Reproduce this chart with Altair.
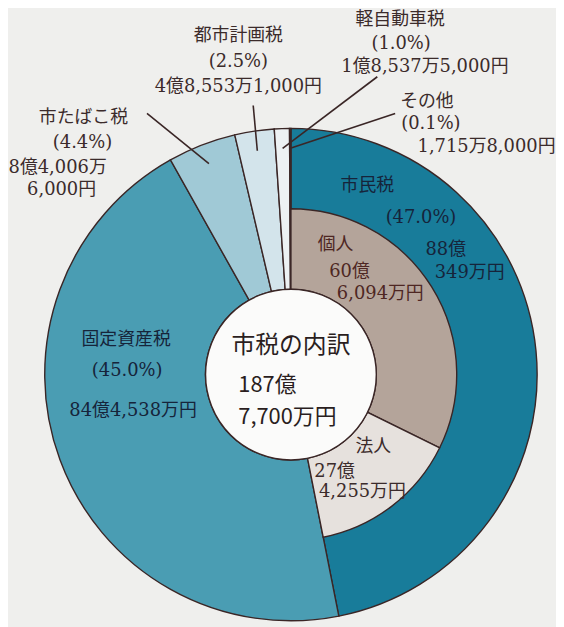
import math
import altair as alt
import pandas as pd

# ---------------- data (amounts in 万円) ----------------
categories = ["市民税", "固定資産税", "市たばこ税", "都市計画税", "軽自動車税", "その他"]
amounts = [880349.0, 844538.0, 84006.6, 48553.1, 18537.5, 1715.8]
percents = ["47.0%", "45.0%", "4.4%", "2.5%", "1.0%", "0.1%"]
sub_categories = ["個人", "法人"]
sub_amounts = [606094.0, 274255.0]
total_amount = 1877700.0

# label lines
label_shiminzei = ["市民税", "(47.0%)", "88億", "349万円"]
label_kojin = ["個人", "60億", "6,094万円"]
label_hojin = ["法人", "27億", "4,255万円"]
label_kotei = ["固定資産税", "(45.0%)", "84億4,538万円"]
label_tabako = ["市たばこ税", "(4.4%)", "8億4,006万", "6,000円"]
label_toshi = ["都市計画税", "(2.5%)", "4億8,553万1,000円"]
label_kei = ["軽自動車税", "(1.0%)", "1億8,537万5,000円"]
label_sonota = ["その他", "(0.1%)", "1,715万8,000円"]
center_title = "市税の内訳"
center_total = ["187億", "7,700万円"]

# ---------------- layout / style ----------------
OFF = 8
CX, CY = 293 - OFF, 375 - OFF
R_OUT, R_MID, R_IN = 248, 167, 86
STROKE = "#3a2626"
BG = "#efefed"
outer_colors = ["#187c9a", "#4a9db3", "#a0c9d6", "#d3e4eb", "#edf1f3", "#f8f8f6"]
inner_colors = ["#b4a49a", "#e6e1dd"]
SERIF = "DejaVu Serif, Noto Sans CJK JP"
SANS = "Noto Sans CJK JP"
CLEAR = "rgba(0,0,0,0)"

all_domain = categories + sub_categories + ["_rest"]
fill_scale = alt.Scale(domain=all_domain, range=outer_colors + inner_colors + [CLEAR])
stroke_scale = alt.Scale(domain=all_domain, range=[STROKE] * (len(all_domain) - 1) + [CLEAR])

outer_df = pd.DataFrame({"cat": categories, "amount": amounts,
                         "order": list(range(len(categories)))})
rest = total_amount - sum(sub_amounts)
inner_df = pd.DataFrame({"cat": sub_categories + ["_rest"],
                         "amount": sub_amounts + [rest],
                         "order": [0, 1, 2]})

outer = alt.Chart(outer_df).mark_arc(
    x=CX, y=CY, innerRadius=R_IN, outerRadius=R_OUT, strokeWidth=1.4
).encode(
    theta=alt.Theta("amount:Q", stack=True),
    order=alt.Order("order:Q"),
    fill=alt.Fill("cat:N", scale=fill_scale, legend=None),
    stroke=alt.Stroke("cat:N", scale=stroke_scale, legend=None),
)

inner = alt.Chart(inner_df).mark_arc(
    x=CX, y=CY, innerRadius=R_IN, outerRadius=R_MID, strokeWidth=1.4
).encode(
    theta=alt.Theta("amount:Q", stack=True),
    order=alt.Order("order:Q"),
    fill=alt.Fill("cat:N", scale=fill_scale, legend=None),
    stroke=alt.Stroke("cat:N", scale=stroke_scale, legend=None),
)

center = alt.Chart(alt.Data(values=[{}])).mark_circle(
    size=(2 * R_IN) ** 2, fill="#fbfbfa", opacity=1,
    stroke=STROKE, strokeWidth=1.4
).encode(x=alt.value(CX), y=alt.value(CY))

# leader lines: end at mid-angle of each small slice
cum = []
s = 0.0
for a in amounts:
    cum.append((s + a / 2) / total_amount)
    s += a
leader_starts = {"市たばこ税": (148, 112), "都市計画税": (255, 104),
                 "軽自動車税": (380, 75), "その他": (398, 112)}
leader_r = 228
rows = []
for cat, (sx, sy) in leader_starts.items():
    ang = cum[categories.index(cat)] * 2 * math.pi
    rows.append({"x": sx - OFF, "y": sy - OFF,
                 "x2": CX + leader_r * math.sin(ang),
                 "y2": CY - leader_r * math.cos(ang)})
leaders = alt.Chart(pd.DataFrame(rows)).mark_rule(color=STROKE, strokeWidth=1.6).encode(
    x=alt.X("x:Q", scale=None, axis=None), y=alt.Y("y:Q", scale=None, axis=None),
    x2="x2:Q", y2="y2:Q")


def text_rows(lines, positions, color, font, size, align="center"):
    out = []
    for t, (px, py) in zip(lines, positions):
        out.append({"t": t, "x": px - OFF, "y": py - OFF, "c": color, "f": font,
                    "s": size, "a": align})
    return out


NAVY = "#16243a"
DARK = "#3b2b2b"
BROWN = "#4e2723"
FS = 18
trows = []
trows += text_rows(label_toshi, [(240, 34), (240, 60), (240, 85)], DARK, SERIF, FS)
trows += text_rows(label_kei, [(403, 18), (404, 42), (428, 65)], DARK, SERIF, FS)
trows += text_rows(label_sonota, [(430, 100), (434, 123), (490, 146)], DARK, SERIF, FS)
trows += text_rows(label_tabako, [(84, 117), (83, 142), (58, 167), (62, 189)], DARK, SERIF, FS)
trows += text_rows(label_shiminzei, [(370, 185), (424, 217), (449, 250), (473, 273)], NAVY, SERIF, FS)
trows += text_rows(label_kojin, [(338, 245), (352, 272), (383, 294)], BROWN, SERIF, FS)
trows += text_rows(label_hojin, [(376, 448), (337, 473), (365, 493)], DARK, SERIF, FS)
trows += text_rows(label_kotei, [(127, 340), (128, 371), (134, 412)], NAVY, SERIF, FS)
trows += text_rows([center_title], [(293, 346)], "#2a1e1e", SANS, 24)
trows += text_rows(center_total, [(240, 386), (240, 418)], "#2a1e1e", SANS, 22, align="left")

tdf = pd.DataFrame(trows)
text_layers = []
for (f, s, a, c), g in tdf.groupby(["f", "s", "a", "c"]):
    text_layers.append(
        alt.Chart(g).mark_text(font=f, fontSize=int(s), align=a, baseline="middle", color=c).encode(
            x=alt.X("x:Q", scale=None, axis=None), y=alt.Y("y:Q", scale=None, axis=None),
            text="t:N")
    )

chart = alt.layer(outer, inner, center, leaders, *text_layers).properties(
    width=548, height=619, padding=0, background=BG
).configure_view(stroke=None)

chart.save("out.html", embed_options={"renderer": "svg", "actions": False})
